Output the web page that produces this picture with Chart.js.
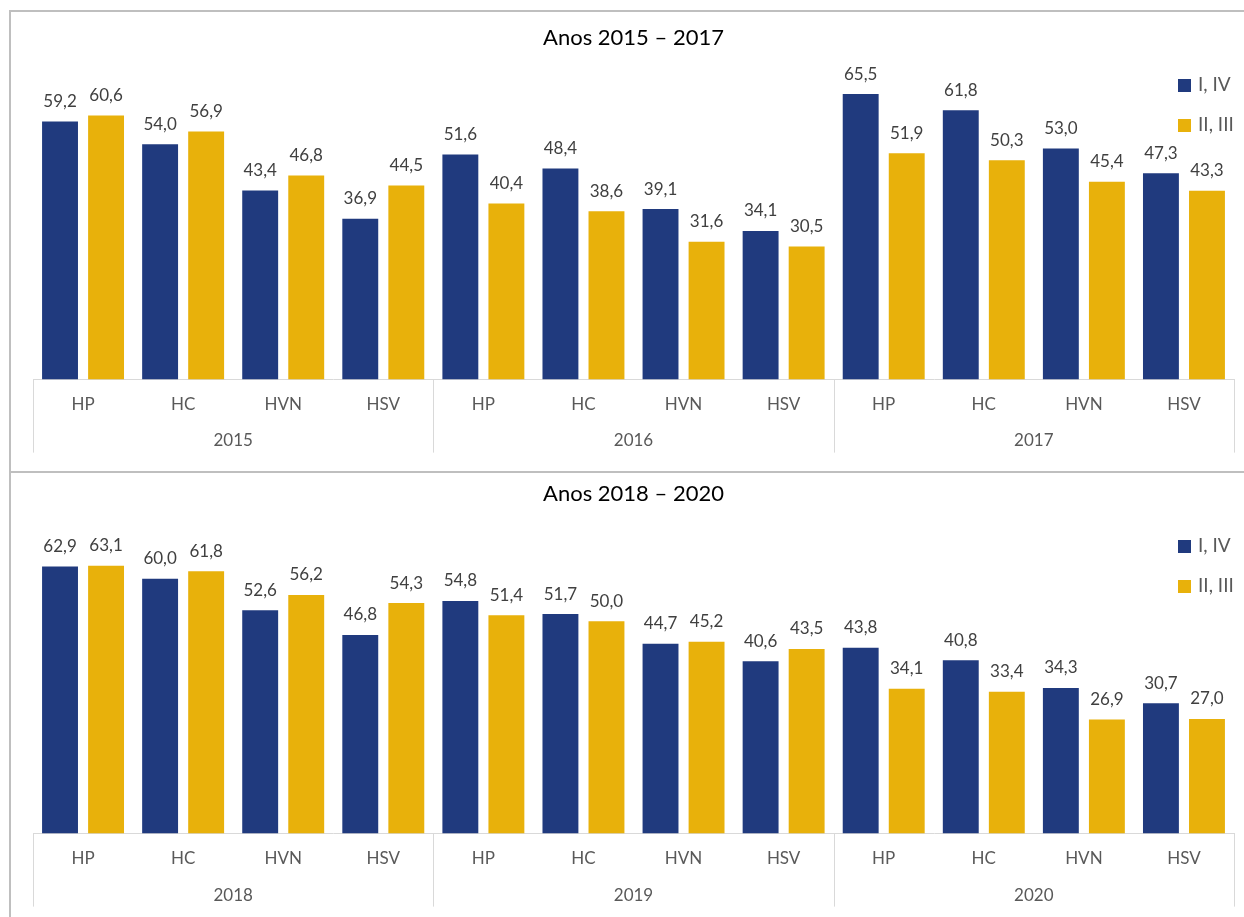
<!DOCTYPE html>
<html>
<head>
<meta charset="utf-8">
<title>Anos 2015 – 2020</title>
<script src="https://cdn.jsdelivr.net/npm/chart.js@4.4.1/dist/chart.umd.min.js"></script>
<style>
    html, body { margin: 0; padding: 0; background: #fff; overflow: hidden; }
    body { width: 1244px; height: 917px; position: relative; font-family: Lato, sans-serif; }
    .panel { position: absolute; left: 9px; width: 1235px; border-top: 2px solid #bfbfbf; border-left: 2px solid #bfbfbf; }
    .panel canvas { display: block; }
    .legend { position: absolute; left: 1167px; }
    .legend-item { position: absolute; left: 0; height: 20px; white-space: nowrap; color: #595959; font-size: 19px; line-height: 20px; }
    .legend-item span { display: inline-block; width: 13px; height: 13px; margin-right: 7px; vertical-align: -1px; }
</style>
</head>
<body>
<div class="panel" id="panel1" style="top: 10px; height: 459px;">
    <canvas id="chart1" width="1233" height="459"></canvas>
    <div class="legend" id="legend1" style="top: 62px;"></div>
</div>
<div class="panel" id="panel2" style="top: 471px; height: 444px;">
    <canvas id="chart2" width="1233" height="444"></canvas>
    <div class="legend" id="legend2" style="top: 62px;"></div>
</div>

<script>
// Hospitals repeated inside each year group
const hospitals = ['HP', 'HC', 'HVN', 'HSV'];
const seriesNames = ['I, IV', 'II, III'];
const seriesColors = ['#203A7E', '#E8B10B'];

// 2015 – 2017
const years1 = ['2015', '2016', '2017'];
const groupIV_1 = [59.2, 54.0, 43.4, 36.9, 51.6, 48.4, 39.1, 34.1, 65.5, 61.8, 53.0, 47.3];
const groupIII_1 = [60.6, 56.9, 46.8, 44.5, 40.4, 38.6, 31.6, 30.5, 51.9, 50.3, 45.4, 43.3];

// 2018 – 2020
const years2 = ['2018', '2019', '2020'];
const groupIV_2 = [62.9, 60.0, 52.6, 46.8, 54.8, 51.7, 44.7, 40.6, 43.8, 40.8, 34.3, 30.7];
const groupIII_2 = [63.1, 61.8, 56.2, 54.3, 51.4, 50.0, 45.2, 43.5, 34.1, 33.4, 26.9, 27.0];

const yMax = 70;

const formatValue = v => v.toFixed(1).replace('.', ',');

// Value labels above every bar
const valueLabels = {
    id: 'valueLabels',
    afterDatasetsDraw(chart) {
        const ctx = chart.ctx;
        ctx.save();
        ctx.font = '17px Lato';
        ctx.fillStyle = '#404040';
        ctx.textAlign = 'center';
        ctx.textBaseline = 'middle';
        chart.data.datasets.forEach((ds, i) => {
            chart.getDatasetMeta(i).data.forEach((bar, j) => {
                ctx.fillText(formatValue(ds.data[j]), bar.x, bar.y - 20);
            });
        });
        ctx.restore();
    }
};

// Second level of the category axis: year names and group dividers
const yearAxis = {
    id: 'yearAxis',
    afterDraw(chart, args, opts) {
        const x = chart.scales.x;
        const ctx = chart.ctx;
        const bottom = chart.chartArea.bottom;
        const step = x.getPixelForValue(1) - x.getPixelForValue(0);
        const n = hospitals.length;
        ctx.save();
        ctx.strokeStyle = '#d9d9d9';
        ctx.lineWidth = 1;
        for (let g = 0; g <= opts.years.length; g++) {
            const px = Math.round(x.getPixelForValue(g * n) - step / 2) + 0.5;
            ctx.beginPath();
            ctx.moveTo(px, bottom);
            ctx.lineTo(px, bottom + 73);
            ctx.stroke();
        }
        ctx.font = '17px Lato';
        ctx.fillStyle = '#595959';
        ctx.textAlign = 'center';
        ctx.textBaseline = 'middle';
        opts.years.forEach((year, g) => {
            const cx = (x.getPixelForValue(g * n) + x.getPixelForValue(g * n + n - 1)) / 2;
            ctx.fillText(year, cx, bottom + opts.yearOffset);
        });
        ctx.restore();
    }
};

function buildChart(canvasId, legendId, title, years, iv, iii, layout) {
    const labels = [];
    years.forEach(() => hospitals.forEach(h => labels.push(h)));

    const chart = new Chart(document.getElementById(canvasId), {
        type: 'bar',
        data: {
            labels: labels,
            datasets: [
                { label: seriesNames[0], data: iv, backgroundColor: seriesColors[0] },
                { label: seriesNames[1], data: iii, backgroundColor: seriesColors[1] }
            ]
        },
        options: {
            responsive: false,
            animation: false,
            categoryPercentage: 0.92,
            barPercentage: 0.78,
            layout: {
                padding: { left: 22, right: 10, top: 0, bottom: layout.bottomPad }
            },
            plugins: {
                legend: { display: false },
                tooltip: { enabled: false },
                title: {
                    display: true,
                    text: title,
                    color: '#000000',
                    font: { family: 'Lato', size: 22, weight: 'normal', lineHeight: 1.2 },
                    padding: { top: layout.titleTop, bottom: layout.titleBottom }
                },
                yearAxis: { years: years, yearOffset: layout.yearOffset }
            },
            scales: {
                x: {
                    grid: { display: false, drawTicks: false },
                    border: { display: true, color: '#d9d9d9', width: 1 },
                    ticks: {
                        color: '#595959',
                        padding: 15,
                        maxRotation: 0,
                        autoSkip: false,
                        font: { family: 'Lato', size: 17 }
                    }
                },
                y: {
                    display: false,
                    min: 0,
                    max: yMax
                }
            }
        },
        plugins: [valueLabels, yearAxis]
    });

    // Legend beside the plot
    const legend = document.getElementById(legendId);
    chart.data.datasets.forEach((ds, i) => {
        const item = document.createElement('div');
        item.className = 'legend-item';
        item.style.top = (i * 40) + 'px';
        item.innerHTML = '<span style="background:' + ds.backgroundColor + '"></span>' + ds.label;
        legend.appendChild(item);
    });
    return chart;
}

buildChart('chart1', 'legend1', 'Anos 2015 – 2017', years1, groupIV_1, groupIII_1,
    { titleTop: 13, titleBottom: 23, bottomPad: 41, yearOffset: 61 });
buildChart('chart2', 'legend2', 'Anos 2018 – 2020', years2, groupIV_2, groupIII_2,
    { titleTop: 8, titleBottom: 29, bottomPad: 33, yearOffset: 62 });
</script>
</body>
</html>
